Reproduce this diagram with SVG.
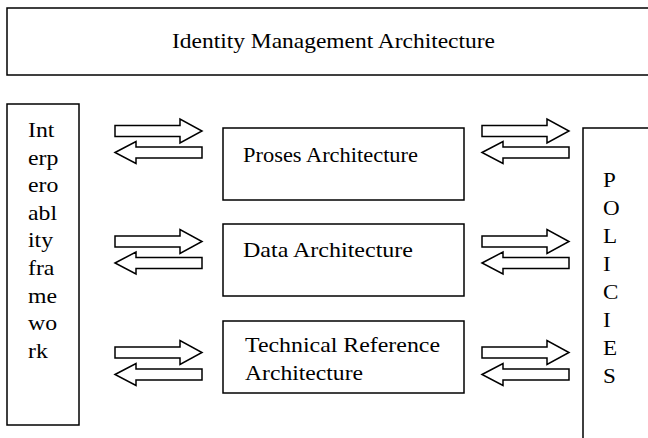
<svg xmlns="http://www.w3.org/2000/svg" xmlns:xlink="http://www.w3.org/1999/xlink" width="648" height="438" viewBox="0 0 648 438">
<style>
.box{fill:#fff;stroke:#000;stroke-width:1.5}
.arr{fill:#fff;stroke:#000;stroke-width:1.5;stroke-linejoin:miter}
text{font-family:"Liberation Serif","Times New Roman",serif;font-size:22px;fill:#000}
</style>
<defs>
<path id="ra" class="arr" d="M0,-5.5 H65 V-12 L87,0 L65,12 V5.5 H0 Z"/>
<path id="la" class="arr" d="M0,0 L21,-11 V-5.5 H87 V5.5 H21 V11 Z"/>
</defs>
<rect width="648" height="438" fill="#fff"/>
<g id="identity-management">
<rect class="box" x="7" y="8" width="660" height="67"/>
<text x="172" y="48" textLength="323" lengthAdjust="spacingAndGlyphs">Identity Management Architecture</text>
</g>
<g id="interoperability">
<rect class="box" x="7" y="104" width="72" height="321"/>
<g transform="translate(28 0) scale(1.08 1)">
<text x="0" y="137">Int</text>
<text x="0" y="164.6">erp</text>
<text x="0" y="192.2">ero</text>
<text x="0" y="219.8">abl</text>
<text x="0" y="247.4">ity</text>
<text x="0" y="275">fra</text>
<text x="0" y="302.6">me</text>
<text x="0" y="330.2">wo</text>
<text x="0" y="357.8">rk</text>
</g>
</g>
<g id="proses">
<rect class="box" x="223" y="128" width="241" height="72"/>
<text x="243" y="162" textLength="175" lengthAdjust="spacingAndGlyphs">Proses Architecture</text>
</g>
<g id="data">
<rect class="box" x="223" y="224" width="241" height="72"/>
<text x="243" y="257" textLength="170" lengthAdjust="spacingAndGlyphs">Data Architecture</text>
</g>
<g id="technical">
<rect class="box" x="223" y="321" width="241" height="72"/>
<text x="245" y="352" textLength="195" lengthAdjust="spacingAndGlyphs">Technical Reference</text>
<text x="245" y="380" textLength="118" lengthAdjust="spacingAndGlyphs">Architecture</text>
</g>
<g id="policies">
<rect class="box" x="583" y="128" width="100" height="330"/>
<g transform="translate(603 0) scale(1.05 1)">
<text x="0" y="187.5">P</text>
<text x="0" y="215.4">O</text>
<text x="0" y="243.3">L</text>
<text x="0" y="271.2">I</text>
<text x="0" y="299.1">C</text>
<text x="0" y="327">I</text>
<text x="0" y="354.9">E</text>
<text x="0" y="382.8">S</text>
</g>
</g>
<g id="connectors">
<use xlink:href="#ra" transform="translate(115 131)"/>
<use xlink:href="#la" transform="translate(115 152.5)"/>
<use xlink:href="#ra" transform="translate(115 241.5)"/>
<use xlink:href="#la" transform="translate(115 263)"/>
<use xlink:href="#ra" transform="translate(115 352.5)"/>
<use xlink:href="#la" transform="translate(115 374.5)"/>
<use xlink:href="#ra" transform="translate(482 131)"/>
<use xlink:href="#la" transform="translate(482 152.5)"/>
<use xlink:href="#ra" transform="translate(482 241.5)"/>
<use xlink:href="#la" transform="translate(482 263)"/>
<use xlink:href="#ra" transform="translate(482 352.5)"/>
<use xlink:href="#la" transform="translate(482 374.5)"/>
</g>
</svg>
